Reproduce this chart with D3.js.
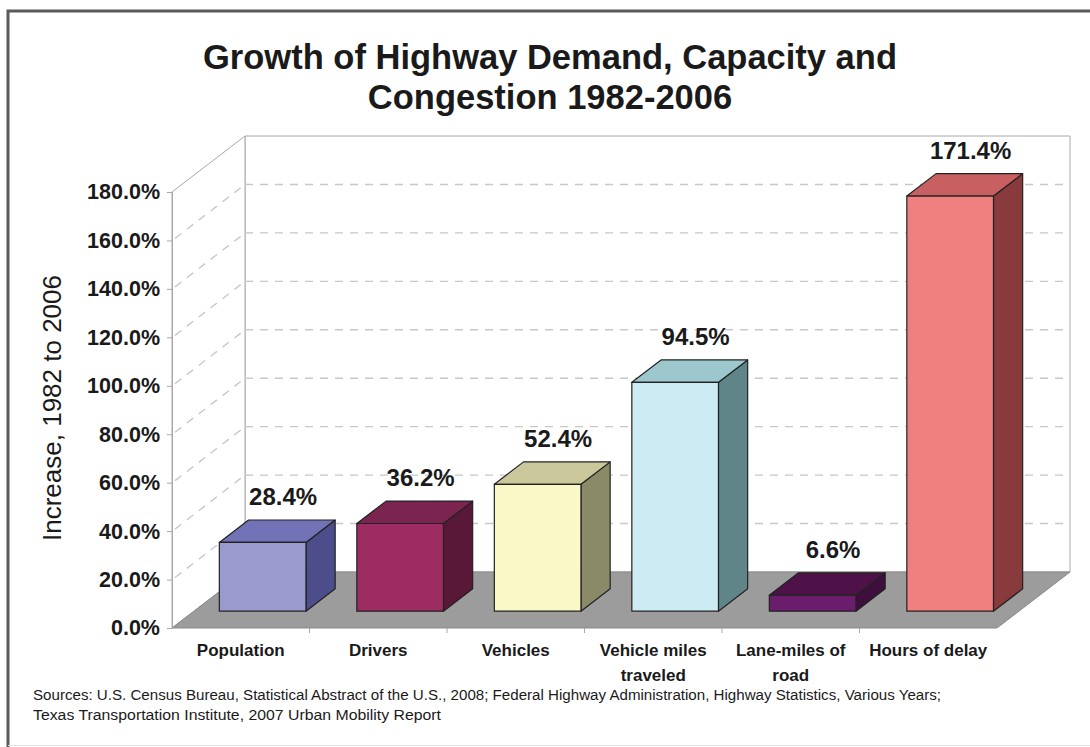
<!DOCTYPE html>
<html>
<head>
<meta charset="utf-8">
<script src="https://cdn.jsdelivr.net/npm/d3@7"></script>
<style>
  html, body { margin: 0; padding: 0; background: #fff; }
  text { font-family: "Liberation Sans", Arial, sans-serif; fill: #1a1a1a; }
</style>
</head>
<body>
<div id="chart"></div>
<script>
// Data
const categories = ['Population', 'Drivers', 'Vehicles', 'Vehicle miles traveled', 'Lane-miles of road', 'Hours of delay']
const increases = [28.4, 36.2, 52.4, 94.5, 6.6, 171.4]
const yTicks = [0, 20, 40, 60, 80, 100, 120, 140, 160, 180]
const titleLines = ['Growth of Highway Demand, Capacity and', 'Congestion 1982-2006']
const yTitle = 'Increase, 1982 to 2006'
const sourceLines = [
  'Sources: U.S. Census Bureau, Statistical Abstract of the U.S., 2008; Federal Highway Administration, Highway Statistics, Various Years;',
  'Texas Transportation Institute, 2007 Urban Mobility Report'
]

// Colores das barras: frente, lado, topo
const palette = [
  ['#9a9acf', '#4d4d8c', '#7272b6'],
  ['#9c2c61', '#5a1839', '#7c2450'],
  ['#fbf8c8', '#8a8a68', '#cac89a'],
  ['#cdebf2', '#5f8589', '#9cc7cc'],
  ['#6c1c6c', '#3e0e3c', '#4e1249'],
  ['#f08080', '#883a3c', '#c85f60']
]

function draw() {
  // Dimensions
  let dimensions = {
    width: 1090,
    height: 747,
    left: 172,
    right: 997,
    top: 192,
    bottom: 628,
    depthX: 73,   // deslocamento da parede do fundo
    depthY: -56,
  }

  const svg = d3.select('#chart')
    .append('svg')
    .attr('width', dimensions.width)
    .attr('height', dimensions.height)

  // Scales
  const xScale = d3.scaleBand()
    .domain(categories)
    .range([dimensions.left, dimensions.right])

  const yScale = d3.scaleLinear()
    .domain([0, 180])
    .range([dimensions.bottom, dimensions.top])

  const colorScale = d3.scaleOrdinal()
    .domain(categories)
    .range(palette)

  // projeta um ponto do plano frontal para uma profundidade d (0 = frente, 1 = fundo)
  const proj = (x, y, d) => [x + dimensions.depthX * d, y + dimensions.depthY * d]
  const poly = pts => 'M' + pts.map(p => p.join(',')).join('L') + 'Z'

  // Frame
  svg.append('path')
    .attr('d', `M${dimensions.width},11 H8 V747`)
    .attr('fill', 'none')
    .attr('stroke', '#5a5a5a')
    .attr('stroke-width', 3)
  svg.append('line')
    .attr('x1', 8).attr('x2', dimensions.width)
    .attr('y1', 745.5).attr('y2', 745.5)
    .attr('stroke', '#e2e2e2')

  // Walls + floor
  const y0 = yScale(0), yMax = yScale(180)
  const xl = dimensions.left, xr = dimensions.right

  const walls = svg.append('g').classed('walls', true)
  walls.append('path')
    .attr('d', poly([proj(xl, yMax, 1), proj(xr, yMax, 1), proj(xr, y0, 1), proj(xl, y0, 1)]))
    .attr('fill', '#fff')
    .attr('stroke', '#a8a8a8')
  walls.append('path')
    .attr('d', poly([[xl, y0], [xl, yMax], proj(xl, yMax, 1), proj(xl, y0, 1)]))
    .attr('fill', '#fff')
    .attr('stroke', '#a8a8a8')
  walls.append('path')
    .attr('d', poly([[xl, y0], [xr, y0], proj(xr, y0, 1), proj(xl, y0, 1)]))
    .attr('fill', '#9c9c9c')
    .attr('stroke', '#8a8a8a')

  // Gridlines (parede do fundo e parede lateral)
  const gridTicks = yTicks.filter(t => t > 0 && t < 180)
  const grid = walls.append('g')
    .attr('stroke', '#c8c8c8')
    .attr('stroke-width', 1.4)
    .attr('stroke-dasharray', '8,7')
  grid.selectAll('line.back')
    .data(gridTicks)
    .join('line')
    .classed('back', true)
    .attr('x1', proj(xl, 0, 1)[0])
    .attr('x2', proj(xr, 0, 1)[0])
    .attr('y1', d => proj(0, yScale(d), 1)[1])
    .attr('y2', d => proj(0, yScale(d), 1)[1])
  grid.selectAll('line.side')
    .data(gridTicks)
    .join('line')
    .classed('side', true)
    .attr('x1', xl + 3)
    .attr('y1', d => yScale(d) - 2)
    .attr('x2', proj(xl, 0, 1)[0])
    .attr('y2', d => proj(0, yScale(d), 1)[1])

  // Bars
  const dFront = 0.3, dBack = 0.7
  const barW = xScale.bandwidth() * 0.63

  const bars = svg.append('g')
    .classed('bars', true)
    .selectAll('g')
    .data(categories.map((c, i) => ({ name: c, value: increases[i] })))
    .join('g')
    .attr('stroke', '#222')
    .attr('stroke-width', 1.2)
    .attr('stroke-linejoin', 'round')

  const corners = d => {
    const x1 = xScale(d.name) + (xScale.bandwidth() - barW) / 2
    const x2 = x1 + barW
    return { x1, x2, yb: yScale(0), yt: yScale(d.value) }
  }

  // lado direito
  bars.append('path')
    .attr('fill', d => colorScale(d.name)[1])
    .attr('d', d => {
      const c = corners(d)
      return poly([proj(c.x2, c.yb, dFront), proj(c.x2, c.yb, dBack), proj(c.x2, c.yt, dBack), proj(c.x2, c.yt, dFront)])
    })
  // topo
  bars.append('path')
    .attr('fill', d => colorScale(d.name)[2])
    .attr('d', d => {
      const c = corners(d)
      return poly([proj(c.x1, c.yt, dFront), proj(c.x2, c.yt, dFront), proj(c.x2, c.yt, dBack), proj(c.x1, c.yt, dBack)])
    })
  // frente
  bars.append('path')
    .attr('fill', d => colorScale(d.name)[0])
    .attr('d', d => {
      const c = corners(d)
      return poly([proj(c.x1, c.yb, dFront), proj(c.x2, c.yb, dFront), proj(c.x2, c.yt, dFront), proj(c.x1, c.yt, dFront)])
    })

  // Value labels
  svg.append('g')
    .selectAll('text')
    .data(categories.map((c, i) => ({ name: c, value: increases[i] })))
    .join('text')
    .attr('x', d => proj(xScale(d.name) + xScale.bandwidth() / 2, 0, 0.58)[0])
    .attr('y', d => proj(0, yScale(d.value), dBack)[1] - 15)
    .attr('text-anchor', 'middle')
    .attr('font-size', 24)
    .attr('font-weight', 'bold')
    .attr('fill', '#222')
    .text(d => d.value.toFixed(1) + '%')

  // AXIS
  const yAxis = d3.axisLeft(yScale)
    .tickValues(yTicks)
    .tickSize(5)
    .tickPadding(7)
    .tickFormat(d => d.toFixed(1) + '%')

  const yAxisG = svg.append('g')
    .attr('transform', `translate(${xl},0)`)
    .call(yAxis)
  yAxisG.select('.domain').attr('stroke', '#a8a8a8')
  yAxisG.selectAll('.tick line').attr('stroke', '#a8a8a8')
  yAxisG.selectAll('.tick text')
    .attr('font-size', 21.5)
    .attr('font-weight', 'bold')
    .attr('font-family', '"Liberation Sans", Arial, sans-serif')
    .attr('fill', '#222')

  // marcações entre categorias
  svg.append('g')
    .selectAll('line')
    .data(categories.slice(1))
    .join('line')
    .attr('x1', d => xScale(d)).attr('x2', d => xScale(d))
    .attr('y1', y0).attr('y2', y0 + 5)
    .attr('stroke', '#a8a8a8')

  const xAxis = d3.axisBottom(xScale)
    .tickSize(0)
    .tickPadding(16)

  const xAxisG = svg.append('g')
    .attr('transform', `translate(0,${y0})`)
    .call(xAxis)
  xAxisG.select('.domain').remove()
  xAxisG.selectAll('.tick text')
    .attr('font-size', 17)
    .attr('font-weight', 'bold')
    .attr('font-family', '"Liberation Sans", Arial, sans-serif')
    .attr('fill', '#111')
    .call(wrap, 126)

  // Title
  svg.append('text')
    .attr('text-anchor', 'middle')
    .attr('font-size', 34.5)
    .attr('font-weight', 'bold')
    .selectAll('tspan')
    .data(titleLines)
    .join('tspan')
    .attr('x', 550)
    .attr('y', (d, i) => 69 + i * 40)
    .text(d => d)

  // Y axis title
  svg.append('text')
    .attr('transform', 'translate(52,408) rotate(-90)')
    .attr('text-anchor', 'middle')
    .attr('dominant-baseline', 'central')
    .attr('font-size', 26)
    .text(yTitle)

  // Sources
  const srcWidths = [908, 408]
  svg.append('g')
    .selectAll('text')
    .data(sourceLines)
    .join('text')
    .attr('x', 33)
    .attr('y', (d, i) => 700 + i * 20)
    .attr('font-size', 14)
    .attr('textLength', (d, i) => srcWidths[i])
    .attr('lengthAdjust', 'spacingAndGlyphs')
    .text(d => d)
}

// quebra os rótulos longos em duas linhas
function wrap(texts, width) {
  texts.each(function () {
    const text = d3.select(this)
    const words = text.text().split(/\s+/)
    const y = text.attr('y')
    const dy = parseFloat(text.attr('dy'))
    text.text(null)
    let line = []
    let lineNo = 0
    let tspan = text.append('tspan').attr('x', 0).attr('y', y).attr('dy', dy + 'em')
    words.forEach(w => {
      line.push(w)
      tspan.text(line.join(' '))
      if (tspan.node().getComputedTextLength() > width && line.length > 1) {
        line.pop()
        tspan.text(line.join(' '))
        line = [w]
        tspan = text.append('tspan')
          .attr('x', 0).attr('y', y)
          .attr('dy', (++lineNo * 1.45 + dy) + 'em')
          .text(w)
      }
    })
  })
}

draw()
</script>
</body>
</html>
